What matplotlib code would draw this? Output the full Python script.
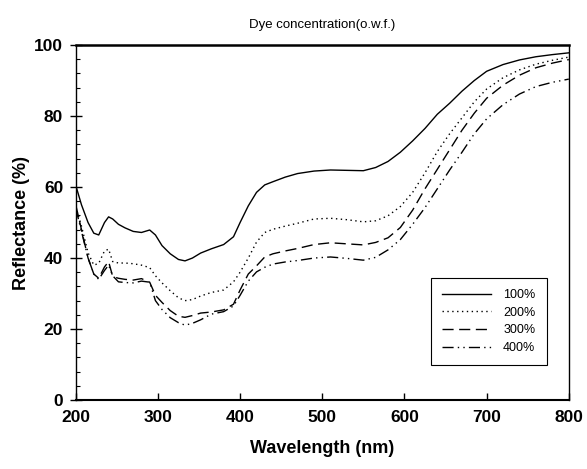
import matplotlib
matplotlib.use("Agg")
import matplotlib.pyplot as plt
from matplotlib.ticker import MultipleLocator

plt.rcParams['font.family'] = ['Liberation Sans', 'DejaVu Sans']

# Wavelength grid (nm) and reflectance (%)
wavelength = [200, 207, 215, 222, 228, 235, 240, 245, 252, 260, 270, 280, 290, 297,
              305, 315, 325, 333, 342, 352, 365, 380, 392, 400, 410, 420, 430, 440,
              455, 470, 490, 510, 530, 550, 565, 580, 595, 610, 625, 640, 655, 670,
              685, 700, 720, 740, 760, 780, 800]

r100 = [60.5, 55, 50, 47, 46.5, 50, 51.6, 51, 49.5, 48.5, 47.5, 47.2, 47.9, 46.5,
        43.5, 41.2, 39.6, 39.2, 40, 41.4, 42.6, 43.8, 46, 50, 54.7, 58.5, 60.6, 61.5,
        62.8, 63.8, 64.5, 64.8, 64.7, 64.6, 65.5, 67.2, 69.8, 73, 76.5, 80.5, 83.6, 87,
        90, 92.6, 94.5, 95.8, 96.7, 97.3, 97.8]

r200 = [54.5, 49, 41.5, 38, 38.5, 42, 42.5, 39, 38.6, 38.6, 38.4, 38, 37.3, 35,
        33, 30.8, 28.8, 28, 28.3, 29.3, 30.3, 31, 33.3, 36, 40, 44.5, 47.2, 48.1,
        49, 49.8, 51, 51.2, 50.8, 50.2, 50.5, 51.9, 54.5, 58.5, 64, 70, 75, 79.5,
        84, 87.6, 90.8, 93, 94.6, 95.7, 96.6]

r300 = [55, 48, 40, 35.5, 34.3, 37.5, 39, 34.8, 34.3, 34, 33.8, 34.2, 33.2, 29.5,
        27.5, 25.2, 23.6, 23.3, 23.8, 24.5, 24.8, 25.4, 27, 31, 35.5, 37.8, 40.3, 41.2,
        42, 42.7, 43.8, 44.3, 44, 43.7, 44.4, 45.7, 48.6, 53.5, 59.5, 65, 70.5, 76,
        80.8, 85, 88.7, 91.5, 93.6, 94.9, 95.9]

r400 = [54, 47.5, 40, 35.5, 34, 36.5, 38, 35, 33.3, 33.1, 33, 33.5, 33.2, 28,
        25.5, 23.2, 21.8, 21.1, 21.6, 22.6, 24.2, 24.9, 26.5, 29.5, 33.5, 36.1, 37.4, 38.3,
        38.9, 39.3, 40, 40.3, 39.9, 39.4, 40.2, 42.3, 45.2, 49.5, 54.2, 59.5, 64.8, 69.8,
        75, 79.2, 83.2, 86.2, 88.3, 89.5, 90.4]

labels = ["100%", "200%", "300%", "400%"]

fig = plt.figure(figsize=(5.87, 4.69), dpi=100)
ax = fig.add_axes([0.129, 0.147, 0.840, 0.757])

ax.plot(wavelength, r100, color='black', lw=1.0, ls='-', label=labels[0])
ax.plot(wavelength, r200, color='black', lw=1.0, ls=(0, (1, 2.5)), label=labels[1])
ax.plot(wavelength, r300, color='black', lw=1.0, ls=(0, (8, 4)), label=labels[2])
ax.plot(wavelength, r400, color='black', lw=1.0, ls=(0, (8, 3, 1, 3, 1, 3)), label=labels[3])

ax.set_xlim(200, 800)
ax.set_ylim(0, 100)
ax.xaxis.set_major_locator(MultipleLocator(100))
ax.yaxis.set_major_locator(MultipleLocator(20))
ax.yaxis.set_minor_locator(MultipleLocator(4))

ax.tick_params(axis='x', which='major', direction='in', length=5, width=1,
               labelsize=12.5, pad=7)
ax.tick_params(axis='y', which='major', direction='inout', length=8, width=1,
               labelsize=12.5, pad=5)
ax.tick_params(axis='y', which='minor', direction='in', length=3, width=0.8)
for lab in ax.get_xticklabels() + ax.get_yticklabels():
    lab.set_fontweight('bold')

ax.spines['top'].set_linewidth(1.8)
ax.spines['bottom'].set_linewidth(1.5)
ax.spines['left'].set_linewidth(1.0)
ax.spines['right'].set_linewidth(1.0)

ax.set_xlabel("Wavelength (nm)", fontsize=13, fontweight='bold', labelpad=11)
ax.set_ylabel("Reflectance (%)", fontsize=13, fontweight='bold', labelpad=3)
ax.set_title("Dye concentration(o.w.f.)", fontsize=9.5, pad=12)

leg = ax.legend(loc='upper right', bbox_to_anchor=(0.955, 0.344), fontsize=9,
                frameon=True, fancybox=False, edgecolor='black', framealpha=1,
                handlelength=3.9, handletextpad=1.0, labelspacing=0.45,
                borderpad=0.9, borderaxespad=0)
leg.get_frame().set_linewidth(0.8)

fig.savefig("out.png", dpi=100)
